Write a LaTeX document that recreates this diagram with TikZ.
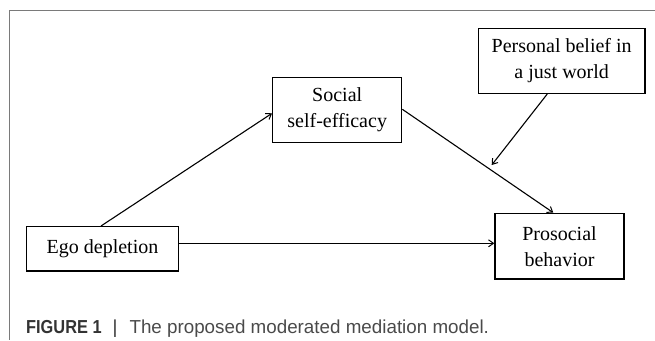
\documentclass[tikz,border=0pt]{standalone}
\usepackage{fontspec}
\usepackage{graphicx}
\setmainfont{Liberation Serif}
\newfontfamily\capfont{Liberation Sans}
\usetikzlibrary{arrows.meta,calc}
\definecolor{framegray}{HTML}{7A7A7A}
\definecolor{capdark}{HTML}{333333}
\definecolor{capgray}{HTML}{4A4A4A}
\tikzset{
  varbox/.style={draw=black, line width=1.3pt, align=center, inner sep=0pt,
    font=\fontsize{20}{26}\selectfont},
  link/.style={line width=1.1pt, -{Straight Barb[length=5pt,width=7pt,line width=1pt]}},
  framerule/.style={draw=framegray, line width=1.2pt}
}
\begin{document}
\begin{tikzpicture}[x=1pt,y=-1pt]
\useasboundingbox (0,0) rectangle (655,340);
% frame
\coordinate (ftr) at (655,10.7);
\coordinate (ftl) at (9.3,10.7);
\coordinate (fbl) at (9.3,340);
\draw[framerule] (ftr) -- (ftl) -- (fbl);
% boxes
\node[varbox, minimum width=166.7pt, minimum height=65pt] (belief) at (561.7,60.8) {Personal belief in\\a just world};
\node[varbox, minimum width=129pt, minimum height=65.2pt] (social) at (337.2,110.1) {Social\\self-efficacy};
\node[varbox, minimum width=151.6pt, minimum height=44.3pt] (ego) at (102.5,248.8) {Ego depletion};
\node[varbox, minimum width=129pt, minimum height=65.7pt] (pro) at (559.5,246.2) {Prosocial\\behavior};
% connectors
\draw[link] ([xshift=-1.5pt]ego.north) -- ([yshift=-3.2pt]social.west);
\draw[link] ([yshift=5.5pt]ego.east) -- ([yshift=5.5pt]ego.east -| pro.west);
\draw[link] ([yshift=0.8pt]social.east) -- ([xshift=-6.2pt]pro.north);
\coordinate (modtip) at (491.7,165);
\draw[link] ([xshift=-14.4pt]belief.south) -- (modtip);
% caption
\node[anchor=base west, inner sep=0pt, font=\capfont\fontsize{18.8}{22}\selectfont] (cap) at (26,333)
  {{\color{capdark}\bfseries\scalebox{0.87}[1]{FIGURE 1}}\hspace{11pt}{\color{capdark}|}\hspace{12pt}{\color{capgray}The proposed moderated mediation model.}};
\end{tikzpicture}
\end{document}
